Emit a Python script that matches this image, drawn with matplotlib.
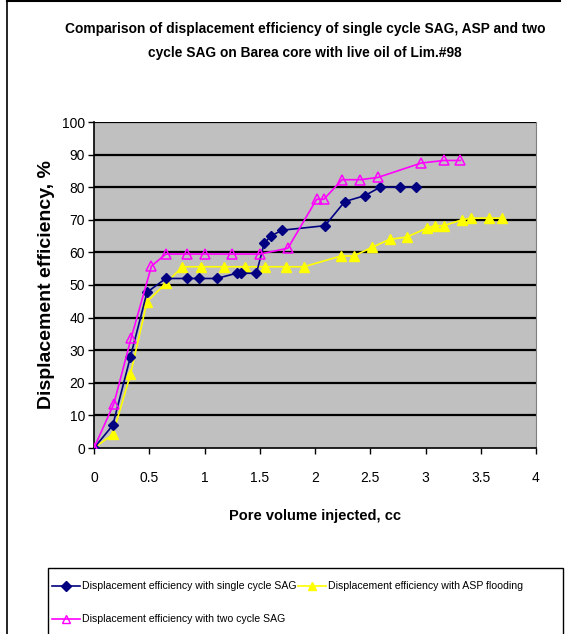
import matplotlib
matplotlib.use("Agg")
import matplotlib.pyplot as plt
from matplotlib.lines import Line2D
from matplotlib.patches import Rectangle

# Pore volume injected (cc) and displacement efficiency (%)
sag1_x = [0, 0.17, 0.33, 0.48, 0.65, 0.84, 0.95, 1.11, 1.29, 1.33, 1.47, 1.54, 1.60, 1.70, 2.09, 2.27, 2.45, 2.59, 2.77, 2.91]
sag1_y = [0, 7.0, 28.0, 47.8, 52.0, 52.0, 52.0, 52.0, 53.6, 53.6, 53.6, 62.8, 65.0, 66.8, 68.2, 75.6, 77.4, 80.0, 80.0, 80.0]

asp_x = [0, 0.17, 0.33, 0.48, 0.65, 0.80, 0.965, 1.18, 1.37, 1.55, 1.74, 1.90, 2.235, 2.35, 2.52, 2.675, 2.83, 3.01, 3.09, 3.165, 3.33, 3.41, 3.575, 3.695]
asp_y = [0, 4.2, 22.6, 44.9, 50.5, 55.6, 55.6, 55.6, 55.6, 55.6, 55.6, 55.6, 58.9, 58.9, 61.6, 64.0, 64.7, 67.4, 68.2, 68.2, 70.0, 70.5, 70.5, 70.5]

sag2_x = [0, 0.18, 0.335, 0.52, 0.65, 0.845, 1.0, 1.25, 1.505, 1.755, 2.015, 2.08, 2.245, 2.41, 2.57, 2.96, 3.165, 3.315]
sag2_y = [0, 13.6, 33.6, 55.8, 59.5, 59.5, 59.5, 59.5, 59.5, 61.3, 76.3, 76.3, 82.3, 82.3, 83.0, 87.4, 88.2, 88.2]

x_ticks = [0, 0.5, 1, 1.5, 2, 2.5, 3, 3.5, 4]
x_tick_labels = ["0", "0.5", "1", "1.5", "2", "2.5", "3", "3.5", "4"]
y_ticks = list(range(0, 101, 10))

labels = ["Displacement efficiency with single cycle SAG",
          "Displacement efficiency with ASP flooding",
          "Displacement efficiency with two cycle SAG"]

sans = ["Liberation Sans", "DejaVu Sans"]

W, H = 565, 634
fig = plt.figure(figsize=(W / 100, H / 100), dpi=100)
fig.patch.set_facecolor("white")

ax = fig.add_axes([94 / W, 1 - 448 / H, (536 - 94) / W, (448 - 122) / H])
ax.set_facecolor("#C0C0C0")

for y in y_ticks[1:]:
    ax.axhline(y, color="black", lw=1.6, zorder=1)

navy = "#000080"
yellow = "#FFFF00"
magenta = "#FF00FF"

ax.plot(sag1_x, sag1_y, color=navy, lw=1.2, marker="D", ms=5.5, mfc=navy, mec=navy, zorder=4)
ax.plot(asp_x, asp_y, color=yellow, lw=1.2, marker="^", ms=7, mfc=yellow, mec=yellow, zorder=3)
ax.plot(sag2_x, sag2_y, color=magenta, lw=1.2, marker="^", ms=7, mfc="none", mec=magenta, mew=1.1, zorder=5)

ax.set_xlim(0, 4)
ax.set_ylim(0, 100)
ax.set_xticks(x_ticks)
ax.set_xticklabels(x_tick_labels)
ax.set_yticks(y_ticks)
ax.tick_params(axis="both", direction="out", length=4.5, width=1, color="black", labelsize=10)
ax.tick_params(axis="x", pad=12)
ax.tick_params(axis="y", pad=2)
for lab in ax.get_xticklabels() + ax.get_yticklabels():
    lab.set_family(sans)

ax.spines["left"].set_color("black")
ax.spines["bottom"].set_color("black")
ax.spines["left"].set_linewidth(1.2)
ax.spines["bottom"].set_linewidth(1.2)
ax.spines["top"].set_visible(False)
ax.spines["right"].set_color("#808080")

ax.set_xlabel("Pore volume injected, cc", family=sans, fontweight="bold", fontsize=10.5, labelpad=17)
ax.set_ylabel("Displacement efficiency, %", family=sans,
              fontweight="bold", fontsize=14, labelpad=5)

fig.text(305 / W, 1 - 29 / H, "Comparison of displacement efficiency of single cycle SAG, ASP and two",
         ha="center", va="center", family=sans, fontweight="bold", fontsize=9.9)
fig.text(305 / W, 1 - 53 / H, "cycle SAG on Barea core with live oil of Lim.#98",
         ha="center", va="center", family=sans, fontweight="bold", fontsize=9.9)

# Outer chart frame
fig.add_artist(Line2D([7 / W, 7 / W], [0, 1 - 1 / H], color="black", lw=1.2, transform=fig.transFigure))
fig.add_artist(Line2D([7 / W, 560 / W], [1 - 1 / H, 1 - 1 / H], color="black", lw=1.5, transform=fig.transFigure))

# Legend box
fig.add_artist(Rectangle((48 / W, -0.01), (563 - 48) / W, 0.01 + (H - 568) / H,
                         fill=False, ec="black", lw=1.0, transform=fig.transFigure))

entries = [
    (52, 586, navy, "D", navy, labels[0]),
    (298, 586, yellow, "^", yellow, labels[1]),
    (52, 619, magenta, "^", "none", labels[2]),
]
for x0, yp, col, mk, mfc, txt in entries:
    yf = 1 - yp / H
    fig.add_artist(Line2D([x0 / W, (x0 + 28) / W], [yf, yf], color=col, lw=1.2,
                          transform=fig.transFigure))
    fig.add_artist(Line2D([(x0 + 14) / W], [yf], marker=mk, ms=5 if mk == "D" else 6,
                          mfc=mfc, mec=col, color=col, transform=fig.transFigure))
    fig.text((x0 + 30) / W, yf, txt, ha="left", va="center", family=sans, fontsize=7.6)

fig.savefig("out.png", dpi=100)
